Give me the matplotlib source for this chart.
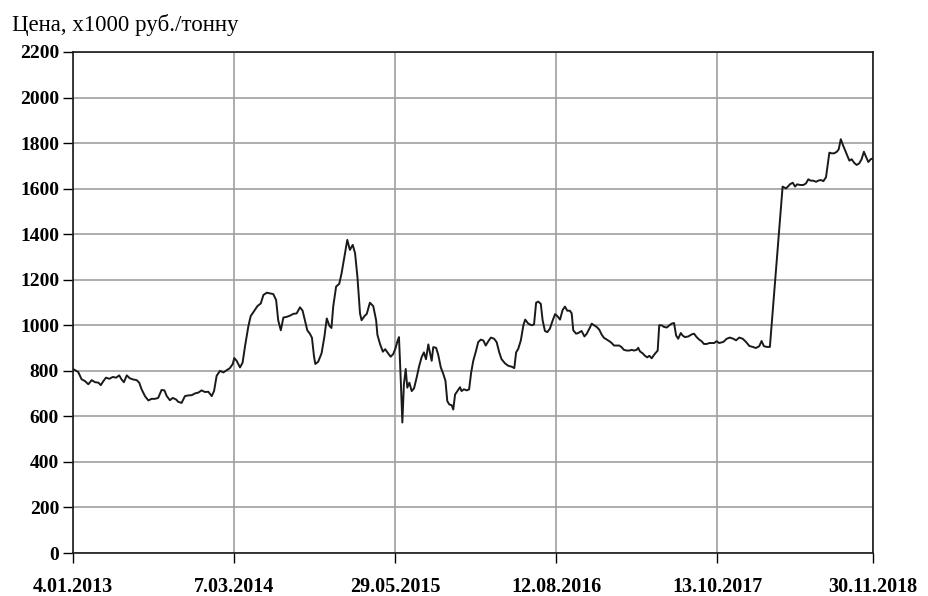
import matplotlib
matplotlib.use("Agg")
import matplotlib.pyplot as plt

# week index (position along the series) and price, x1000 rub/t
weeks = [
    0.0, 2.0, 3.3, 4.6, 5.9, 7.2, 8.5, 9.8, 10.7, 11.7, 12.7, 14.0, 15.3, 16.6, 17.8,
    18.7, 19.6, 20.7, 21.9, 23.2, 24.5, 25.5, 26.4, 27.7, 29.0, 30.3, 31.6, 32.8,
    34.1, 35.2, 36.1, 37.3, 38.4, 39.7, 40.5, 41.8, 43.1, 44.4, 45.7, 47.0, 48.2,
    49.5, 50.8, 52.1, 53.4, 54.3, 55.3, 56.6, 57.9, 59.2, 60.4, 61.5, 62.1, 63.0,
    64.3, 65.3, 66.2, 67.5, 68.4, 69.7, 71.0, 72.3, 73.3, 74.6, 75.8, 77.1, 78.2,
    79.0, 80.0, 81.0, 82.3, 83.5, 84.8, 86.1, 87.4, 88.4, 89.3, 90.2, 91.2, 92.0,
    92.8, 93.3, 94.4, 95.7, 96.8, 97.7, 98.7, 99.5, 100.2, 101.3, 102.5, 103.4,
    104.3, 105.6, 106.6, 107.7, 108.6, 109.5, 110.5, 111.1, 112.2, 113.1, 114.3,
    115.6, 116.7, 117.2, 118.2, 119.3, 120.2, 121.3, 122.3, 123.3, 124.2, 124.9,
    125.5, 126.2, 126.8, 127.4, 128.1, 128.7, 129.5, 130.4, 131.3, 132.3, 133.3,
    134.2, 135.1, 135.9, 136.8, 137.4, 138.1, 138.7, 139.8, 140.6, 141.6, 142.6,
    143.4, 144.1, 144.9, 145.8, 146.4, 147.1, 148.0, 149.0, 149.6, 150.5, 151.6,
    152.5, 153.3, 154.1, 155.2, 156.0, 157.0, 158.0, 158.9, 159.9, 160.9, 162.1,
    163.1, 164.1, 165.0, 166.3, 167.6, 168.9, 169.9, 170.6, 171.4, 172.4, 173.4,
    174.1, 175.3, 176.6, 177.5, 178.3, 179.1, 180.1, 180.8, 181.7, 182.6, 183.6,
    184.7, 185.6, 186.5, 187.5, 188.5, 189.4, 190.3, 191.3, 192.0, 192.6, 193.7,
    194.5, 195.8, 196.9, 197.8, 198.8, 199.7, 200.6, 201.6, 202.6, 203.5, 204.4,
    205.5, 206.5, 207.4, 208.3, 209.3, 210.3, 211.2, 212.1, 213.2, 214.2, 215.1,
    216.0, 217.0, 217.6, 218.3, 219.3, 220.2, 221.1, 221.9, 222.8, 223.7, 224.5,
    225.1, 225.7, 226.6, 227.5, 228.6, 229.6, 230.5, 231.4, 232.2, 233.0, 234.0,
    234.7, 235.6, 236.9, 238.2, 239.1, 240.1, 241.1, 242.0, 242.9, 244.0, 245.0,
    245.9, 246.8, 247.8, 248.8, 250.4, 251.7, 252.9, 254.2, 255.3, 256.5, 257.8,
    259.1, 260.4, 261.7, 262.9, 264.2, 265.1, 266.0, 267.1, 268.3, 273.2, 274.5,
    275.4, 276.0, 277.1, 278.0, 278.8, 279.9, 281.2, 282.2, 283.1, 284.0, 285.0,
    286.1, 286.9, 287.9, 288.9, 289.9, 291.2, 292.1, 293.0, 294.1, 294.8, 295.6,
    296.4, 297.3, 298.2, 298.9, 299.8, 300.7, 301.7, 302.7, 303.6, 304.5, 305.3,
    306.2, 307.1, 308.0,
]
price = [
    808, 795, 763, 755, 741, 759, 750, 748, 737, 755, 770, 765, 773, 770, 780,
    762, 750, 780, 767, 762, 759, 748, 719, 689, 670, 677, 677, 681,
    716, 714, 689, 671, 681, 674, 664, 659, 689, 692, 693, 701, 704,
    714, 707, 708, 689, 711, 778, 800, 793, 803, 812, 830, 856, 844,
    815, 836, 906, 995, 1040, 1062, 1084, 1096, 1133, 1143, 1140, 1137, 1111,
    1022, 978, 1034, 1037, 1042, 1050, 1052, 1079, 1064, 1022, 978, 963, 945,
    862, 830, 840, 877, 951, 1030, 998, 988, 1084, 1170, 1182, 1228,
    1287, 1375, 1331, 1353, 1316, 1213, 1052, 1022, 1040, 1050, 1099,
    1084, 1022, 958, 918, 884, 895, 877, 862, 874, 900, 930,
    948, 756, 573, 741, 808, 726, 748, 711, 723, 770, 822,
    859, 881, 851, 916, 881, 844, 904, 901, 871, 815, 785,
    756, 667, 652, 649, 630, 696, 711, 728, 711, 719, 714,
    719, 793, 844, 889, 926, 937, 933, 911, 930, 946, 941,
    926, 881, 851, 833, 822, 818, 812, 881, 896, 933, 1000,
    1025, 1007, 1000, 1004, 1099, 1104, 1094, 1022, 975, 970, 985,
    1022, 1049, 1040, 1025, 1067, 1082, 1064, 1064, 1052, 978, 963,
    966, 975, 951, 963, 985, 1007, 1000, 993, 981, 960, 945,
    937, 930, 922, 911, 911, 911, 904, 892, 889, 889, 892,
    889, 892, 901, 885, 877, 866, 859, 866, 855, 870, 881,
    889, 1000, 1000, 993, 990, 1000, 1007, 1010, 955, 941, 966,
    955, 948, 951, 960, 963, 948, 937, 930, 918, 918, 922,
    922, 922, 930, 922, 927, 941, 946, 941, 934, 946, 941,
    927, 909, 905, 900, 908, 931, 908, 905, 905, 1609, 1601,
    1611, 1619, 1626, 1609, 1619, 1616, 1616, 1623, 1641, 1635, 1635,
    1630, 1635, 1638, 1633, 1650, 1758, 1755, 1755, 1762, 1773, 1817,
    1792, 1767, 1743, 1723, 1729, 1714, 1704, 1711, 1729, 1762, 1740,
    1717, 1729, 1733,
]

tick_pos = [0, 62, 124, 186, 248, 308]
tick_labels = ["4.01.2013", "7.03.2014", "29.05.2015", "12.08.2016", "13.10.2017", "30.11.2018"]
y_ticks = list(range(0, 2201, 200))

plt.rcParams["font.family"] = ["Liberation Serif", "DejaVu Serif"]

fig = plt.figure(figsize=(9.29, 5.96), dpi=100)
ax = fig.add_axes([73 / 929, 1 - 553 / 596, 800 / 929, 501 / 596])

ax.plot(weeks, price, color="#1a1a1a", lw=1.4, zorder=3)

ax.set_xlim(0, 308)
ax.set_ylim(0, 2200)
ax.set_xticks(tick_pos)
ax.set_xticklabels(tick_labels)
ax.set_yticks(y_ticks)

ax.grid(True, color="#a0a0a0", lw=1.2)
ax.set_axisbelow(True)
for s in ax.spines.values():
    s.set_color("#1a1a1a")
    s.set_linewidth(1.2)

ax.tick_params(axis="x", direction="out", length=7, width=1, pad=10,
               labelsize=14.5)
ax.tick_params(axis="y", direction="out", length=7, width=1, pad=3,
               labelsize=14)
for lab in ax.get_xticklabels() + ax.get_yticklabels():
    lab.set_fontweight("bold")

fig.text(12 / 929, 1 - 31 / 596, "Цена, x1000 руб./тонну", fontsize=16.5,
         va="baseline", ha="left")

fig.savefig("out.png", dpi=100)
